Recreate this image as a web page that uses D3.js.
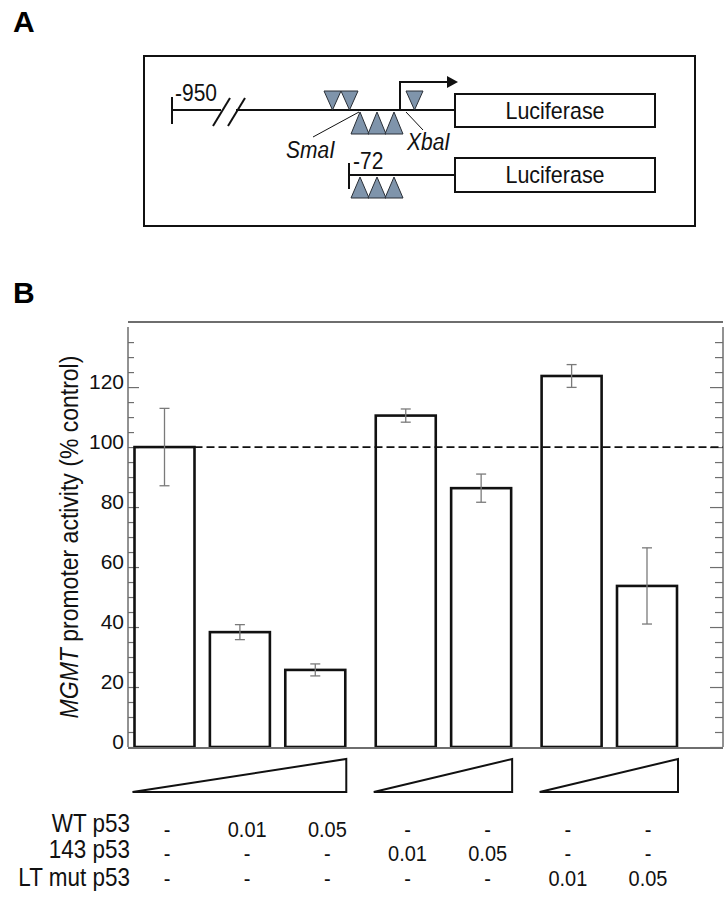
<!DOCTYPE html>
<html>
<head>
<meta charset="utf-8">
<script src="https://cdn.jsdelivr.net/npm/d3@7"></script>
<style>
  html, body { margin: 0; padding: 0; background: #fff; }
  svg { display: block; font-family: "Liberation Sans", Arial, sans-serif; }
</style>
</head>
<body>
<svg id="chart" width="726" height="903"></svg>
<script>
// ---------------- DATA ----------------
const barKeys   = ["ctrl", "WT 0.01", "WT 0.05", "143 0.01", "143 0.05", "LT 0.01", "LT 0.05"];
const barValues = [100, 38.3, 25.7, 110.5, 86.3, 123.7, 53.7];
const barErrors = [12.9, 2.5, 2.0, 2.2, 4.7, 3.8, 12.7];
const barGroup  = [0, 0, 0, 1, 1, 2, 2];
const majorTicks = [0, 20, 40, 60, 80, 100, 120];
const minorTicks = d3.range(0, 140, 5);
const refLine = 100;
const rowLabels = ["WT p53", "143 p53", "LT mut p53"];
const rowWT  = ["-", "0.01", "0.05", "-", "-", "-", "-"];
const row143 = ["-", "-", "-", "0.01", "0.05", "-", "-"];
const rowLT  = ["-", "-", "-", "-", "-", "0.01", "0.05"];
const yTitleItalic = "MGMT";
const yTitleRest = " promoter activity (% control)";

// ---------------- SETUP ----------------
const svg = d3.select("#chart");
svg.append("rect").attr("width", 726).attr("height", 903).attr("fill", "#fff");
const STRETCH = 1.12;

function tallText(parent, x, yb, str, size, opts = {}) {
  const t = parent.append("text")
    .attr("transform", `translate(${x},${yb}) scale(1,${STRETCH})`)
    .attr("font-size", size).attr("fill", "#111")
    .attr("text-anchor", opts.anchor || "start");
  if (opts.italic) t.attr("font-style", "italic");
  t.text(str);
  return t;
}

// ================= PANEL A (schematic) =================
const A = svg.append("g");
A.append("text").attr("x", 13).attr("y", 32).attr("font-size", 30).attr("font-weight", "bold").text("A");
A.append("rect").attr("x", 144).attr("y", 56).attr("width", 551).attr("height", 170)
  .attr("fill", "none").attr("stroke", "#111").attr("stroke-width", 2);

const lineY = 110, line2Y = 175;
const ink = "#111";
A.append("line").attr("x1", 172).attr("x2", 221).attr("y1", lineY).attr("y2", lineY).attr("stroke", ink).attr("stroke-width", 2.2);
A.append("line").attr("x1", 236).attr("x2", 455).attr("y1", lineY).attr("y2", lineY).attr("stroke", ink).attr("stroke-width", 2.2);
A.append("line").attr("x1", 213).attr("y1", 126).attr("x2", 230).attr("y2", 98).attr("stroke", ink).attr("stroke-width", 2);
A.append("line").attr("x1", 228).attr("y1", 126).attr("x2", 245).attr("y2", 98).attr("stroke", ink).attr("stroke-width", 2);
A.append("line").attr("x1", 172).attr("x2", 172).attr("y1", 97).attr("y2", 124).attr("stroke", ink).attr("stroke-width", 2);
tallText(A, 175, 101, "-950", 21);

const triFill = "#7f94ab", triStroke = "#2a2f36";
function downTri(x, w, top, tip) {
  A.append("path").attr("d", `M${x},${top}L${x + w},${top}L${x + w / 2},${tip}Z`)
    .attr("fill", triFill).attr("stroke", triStroke).attr("stroke-width", 1);
}
function upTri(x, w, apex, base) {
  A.append("path").attr("d", `M${x},${base}L${x + w},${base}L${x + w / 2},${apex}Z`)
    .attr("fill", triFill).attr("stroke", triStroke).attr("stroke-width", 1);
}
downTri(324, 17, 91, 110);
downTri(341, 17, 91, 110);
downTri(406, 17, 91, 110);
[351, 368, 385].forEach(x => upTri(x, 18, 112, 134));
[351, 368, 385].forEach(x => upTri(x, 18, 177, 198));

A.append("path").attr("d", `M400,${lineY}V82H449`).attr("fill", "none").attr("stroke", ink).attr("stroke-width", 2);
A.append("path").attr("d", "M447,76L458,82L447,88Z").attr("fill", ink);

A.append("line").attr("x1", 313).attr("y1", 137).attr("x2", 359).attr("y2", 112).attr("stroke", ink).attr("stroke-width", 1);
tallText(A, 286, 158, "SmaI", 21, { italic: true });
A.append("line").attr("x1", 406).attr("y1", 112).attr("x2", 423).attr("y2", 130).attr("stroke", ink).attr("stroke-width", 1);
tallText(A, 407, 150, "XbaI", 21, { italic: true });

[[94, 33, 119], [158, 34, 183]].forEach(([yy, h, ty]) => {
  A.append("rect").attr("x", 455).attr("y", yy).attr("width", 200).attr("height", h)
    .attr("fill", "#fff").attr("stroke", ink).attr("stroke-width", 2);
  tallText(A, 555, ty, "Luciferase", 21.5, { anchor: "middle" });
});

A.append("line").attr("x1", 349).attr("x2", 455).attr("y1", line2Y).attr("y2", line2Y).attr("stroke", ink).attr("stroke-width", 2);
A.append("line").attr("x1", 349).attr("x2", 349).attr("y1", 163).attr("y2", 189).attr("stroke", ink).attr("stroke-width", 2);
tallText(A, 353, 169, "-72", 21);

// ================= PANEL B (bar chart) =================
const B = svg.append("g");
B.append("text").attr("x", 13).attr("y", 303).attr("font-size", 30).attr("font-weight", "bold").text("B");

const plotL = 128, plotR = 723, plotT = 322, plotB = 747;
const y = d3.scaleLinear().domain([0, 141.7]).range([plotB, plotT]);

const groupGap = 0.2;
const slot = barKeys.map((k, i) => i + groupGap * barGroup[i]);
const xPos = d3.scaleLinear().domain([d3.min(slot), d3.max(slot)]).range([164.5, 647]);
const barW = 60;
const axisGray = "#6e6e6e";

const leftMajor = d3.axisLeft(y).tickValues(majorTicks).tickSizeInner(-11).tickSizeOuter(0).tickPadding(4);
const gL = B.append("g").attr("transform", `translate(${plotL},0)`).call(leftMajor);
gL.select(".domain").remove();
gL.selectAll(".tick line").attr("stroke", axisGray).attr("stroke-width", 1.2);
gL.selectAll(".tick text").attr("font-size", 21).attr("fill", "#111")
  .attr("font-family", "'Liberation Sans', Arial, sans-serif").attr("transform", "translate(0,-5)");
const leftMinor = d3.axisLeft(y).tickValues(minorTicks.filter(v => !majorTicks.includes(v))).tickSizeInner(-6).tickSizeOuter(0).tickFormat("");
const gLm = B.append("g").attr("transform", `translate(${plotL},0)`).call(leftMinor);
gLm.select(".domain").remove();
gLm.selectAll(".tick line").attr("stroke", axisGray).attr("stroke-width", 1.2);

const rightMajor = d3.axisRight(y).tickValues(majorTicks).tickSizeInner(-13).tickSizeOuter(0).tickFormat("");
const gR = B.append("g").attr("transform", `translate(${plotR},0)`).call(rightMajor);
gR.select(".domain").remove();
gR.selectAll(".tick line").attr("stroke", axisGray).attr("stroke-width", 1.2);
const rightMinor = d3.axisRight(y).tickValues(minorTicks.filter(v => !majorTicks.includes(v))).tickSizeInner(-8).tickSizeOuter(0).tickFormat("");
const gRm = B.append("g").attr("transform", `translate(${plotR},0)`).call(rightMinor);
gRm.select(".domain").remove();
gRm.selectAll(".tick line").attr("stroke", axisGray).attr("stroke-width", 1.2);

B.append("line").attr("x1", plotL).attr("x2", plotL).attr("y1", plotT + 5).attr("y2", plotB).attr("stroke", axisGray).attr("stroke-width", 1.5);
B.append("line").attr("x1", plotR).attr("x2", plotR).attr("y1", plotT + 5).attr("y2", plotB).attr("stroke", axisGray).attr("stroke-width", 1.5);
B.append("line").attr("x1", plotL).attr("x2", plotR).attr("y1", plotT).attr("y2", plotT).attr("stroke", axisGray).attr("stroke-width", 2);

B.selectAll("rect.bar").data(barValues).join("rect").attr("class", "bar")
  .attr("x", (d, i) => xPos(slot[i]) - barW / 2)
  .attr("width", barW)
  .attr("y", d => y(d))
  .attr("height", d => y(0) - y(d))
  .attr("fill", "none").attr("stroke", "#111").attr("stroke-width", 2.6);

B.append("line").attr("x1", plotL).attr("x2", plotR).attr("y1", plotB + 1).attr("y2", plotB + 1).attr("stroke", axisGray).attr("stroke-width", 2);

B.append("line").attr("x1", xPos(slot[0]) - barW / 2).attr("x2", plotR)
  .attr("y1", y(refLine)).attr("y2", y(refLine))
  .attr("stroke", "#111").attr("stroke-width", 1.8).attr("stroke-dasharray", "8,4");

const errG = B.append("g").attr("stroke", "#7a7a7a").attr("stroke-width", 1.3);
barValues.forEach((v, i) => {
  const cx = xPos(slot[i]);
  const y1 = y(v + barErrors[i]), y2 = y(v - barErrors[i]);
  errG.append("line").attr("x1", cx).attr("x2", cx).attr("y1", y1).attr("y2", y2);
  errG.append("line").attr("x1", cx - 5).attr("x2", cx + 5).attr("y1", y1).attr("y2", y1);
  errG.append("line").attr("x1", cx - 5).attr("x2", cx + 5).attr("y1", y2).attr("y2", y2);
});

const yt = B.append("text").attr("transform", `translate(78,537) rotate(-90) scale(1,${STRETCH})`)
  .attr("text-anchor", "middle").attr("font-size", 23).attr("fill", "#111");
yt.append("tspan").attr("font-style", "italic").text(yTitleItalic);
yt.append("tspan").text(yTitleRest);

const groups = d3.groups(barKeys.map((k, i) => i), i => barGroup[i]);
groups.forEach(([g, idx]) => {
  const x0 = xPos(slot[idx[0]]) - barW / 2 - 2;
  const x1 = xPos(slot[idx[idx.length - 1]]) + barW / 2 + 1;
  B.append("path").attr("d", `M${x0},792L${x1},759L${x1},792Z`)
    .attr("fill", "none").attr("stroke", "#111").attr("stroke-width", 2).attr("stroke-linejoin", "miter");
});

const col = d3.scalePoint().domain(barKeys).range([167, 648]);
const labelY = [832, 858, 886];
const valueY = [837, 861, 886];
rowLabels.forEach((lab, r) => tallText(B, 130, labelY[r], lab, 22.5, { anchor: "end" }));
[rowWT, row143, rowLT].forEach((row, r) => {
  B.selectAll(null).data(row).join("text")
    .attr("transform", (d, i) => `translate(${col(barKeys[i])},${valueY[r]}) scale(1,${STRETCH})`)
    .attr("text-anchor", "middle").attr("font-size", 20).attr("fill", "#111")
    .text(d => d);
});
</script>
</body>
</html>
